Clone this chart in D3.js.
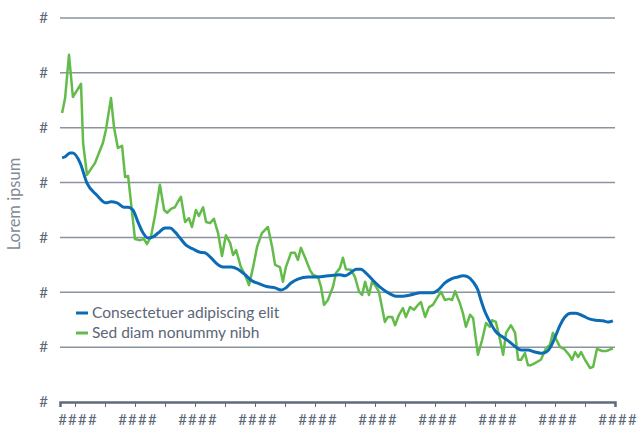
<!DOCTYPE html>
<html>
<head>
<meta charset="utf-8">
<script src="https://cdn.jsdelivr.net/npm/d3@7"></script>
<style>
  body { margin: 0; background: #fff; }
  svg { display: block; }
</style>
</head>
<body>
<div id="chart"></div>
<script>
// data (x in periods, y on a 0-70 scale, gridlines every 10)
const yTicks = [0, 10, 20, 30, 40, 50, 60, 70];
const yTickLabels = ['#', '#', '#', '#', '#', '#', '#', '#'];
const xTicks = [5, 15, 25, 35, 45, 55, 65, 75, 85, 95, 105, 115, 125, 135, 145, 155, 165, 175, 185];
const xLabelTicks = [5, 25, 45, 65, 85, 105, 125, 145, 165, 185];
const xTickLabels = ['####', '####', '####', '####', '####', '####', '####', '####', '####', '####'];
const seriesNames = ['Consectetuer adipiscing elit', 'Sed diam nonummy nibh'];

const blueT = [0.7, 1.7, 3.3, 4.3, 6.7, 9, 12.3, 15.3, 17, 19, 21.3, 22.7, 24.3, 26, 27.7, 29.3, 31, 32.7,
  35, 36.7, 38.3, 40, 42, 44.3, 46.7, 48.3, 50.3, 52.7, 54.3, 57, 59.3, 61.7, 63.7, 66.7, 69.3, 71.7,
  73.7, 75.3, 77, 79.3, 82.7, 86, 89.3, 93.3, 95, 96.7, 98.7, 100.3, 102, 104.3, 107, 110, 112, 114.3,
  116.7, 120.3, 124.3, 126, 128.3, 130.3, 132.7, 134.3, 136, 137.7, 139.3, 140.3, 141.7, 143.3, 145.3,
  147.7, 150, 152, 153.7, 156, 158.3, 160.3, 162, 163.7, 165, 166.7, 168.3, 170.3, 172, 174.3, 176.7,
  178.7, 181, 182.7, 184.3];
const blueV = [44.5, 44.7, 45.4, 45.4, 43.6, 39.9, 37.7, 36.3, 36.5, 36.3, 35.5, 35.5, 35.0, 32.8, 30.8, 29.9, 30.1, 30.8,
  31.7, 31.7, 31.0, 29.9, 28.6, 27.9, 27.3, 27.2, 26.3, 25.0, 24.6, 24.6, 24.2, 23.2, 22.2, 21.5, 21.0, 20.8,
  20.4, 20.8, 21.7, 22.4, 22.8, 22.8, 23.0, 23.2, 23.0, 23.5, 24.2, 24.2, 23.5, 22.2, 20.8, 19.7, 19.3, 19.3,
  19.5, 19.9, 19.9, 20.4, 21.7, 22.4, 22.8, 23.0, 22.8, 21.9, 20.4, 18.6, 16.4, 14.6, 12.8,
  11.8, 10.9, 10.0, 9.5, 9.5, 9.1, 8.9, 9.1, 10.2, 11.8, 14.0, 15.5, 16.2, 16.2, 15.7, 15.1,
  14.9, 14.8, 14.6, 14.8];

const greenT = [0.7, 1.7, 3, 4.3, 7, 7.7, 9, 11.7, 14.3, 15.3, 17, 18, 19.3, 20.7, 21.7, 22.7, 25, 26.7, 28, 29,
  30.3, 31.7, 33.3, 34.7, 35.7, 37, 38.3, 39.3, 40.3, 41.7, 43, 44, 45.3, 46.3, 47.7, 48.7, 50, 51.3, 52.7,
  54, 55.3, 56.7, 57.7, 58.7, 60.3, 61.7, 63, 64.3, 65.7, 67.3, 69.3, 70.7, 71.7, 73.3, 74.3, 75.3, 77, 78.3,
  79.3, 80.3, 81.7, 83.3, 84.3, 86, 87, 88, 89.3, 91, 92, 93.3, 94.3, 95.3, 97, 98.3, 99.7, 100.7, 101.7, 103,
  104, 105, 106.3, 107, 108.3, 109.3, 110.7, 111.7, 113, 114.3, 115.3, 116.7, 118, 119.3, 120.3, 121.7, 123,
  124.3, 125.7, 127, 128.3, 129.7, 130.7, 131.7, 133.3, 134.3, 135.3, 136.7, 137.7, 139.3, 140.7, 142, 143.3,
  144, 145.3, 146.7, 147.7, 148.7, 150.3, 151.7, 152.7, 153.7, 155, 156, 157, 158.3, 160.3, 162, 163.3, 164.3,
  166.7, 168, 169.7, 170.7, 171.7, 172.7, 173.7, 175, 176.7, 177.7, 179, 180.7, 182.3, 184.3];
const greenV = [52.7, 55.4, 63.3, 55.6, 58.0, 47.2, 41.4, 43.6, 47.2, 49.6, 55.4, 50.1, 46.3, 46.7, 41.0, 41.2, 29.7, 29.5, 29.7, 28.8,
  30.1, 34.1, 39.6, 35.0, 34.5, 35.2, 35.5, 36.5, 37.4, 32.8, 33.5, 31.9, 35.0, 33.9, 35.5, 32.8, 32.6, 33.4, 30.8,
  26.6, 30.4, 29.0, 26.8, 27.7, 24.6, 23.2, 21.3, 24.4, 28.3, 30.8, 31.9, 28.3, 25.0, 24.6, 21.9, 24.6, 27.2, 27.2,
  25.9, 28.1, 26.3, 24.1, 23.2, 22.8, 21.0, 17.7, 18.6, 21.0, 23.5, 24.4, 26.3, 24.2, 24.1, 22.8, 20.1, 19.5, 21.9, 19.5,
  21.9, 21.3, 20.1, 18.2, 14.6, 15.5, 15.5, 14.0, 15.9, 17.1, 15.5, 17.3, 16.8, 17.7, 18.2, 15.5, 17.3,
  17.7, 19.0, 20.1, 18.6, 18.8, 18.6, 20.2, 18.0, 16.2, 13.7, 15.9, 15.3, 8.6, 11.3, 14.4, 13.7,
  14.9, 14.6, 11.3, 8.6, 12.6, 14.0, 12.6, 7.7, 7.7, 8.9, 6.7, 6.7, 7.1, 7.7, 9.8, 10.4, 12.6,
  10.0, 9.7, 8.6, 7.7, 9.1, 8.2, 9.1, 7.7, 6.2, 6.4, 9.7, 9.3, 9.3, 9.8];

const width = 638, height = 430;
const margin = { top: 18, right: 23, bottom: 28, left: 60 };
const textColor = '#5b6677';
const blue = '#0b6cb5';
const green = '#63bb4a';

const svg = d3.select('#chart').append('svg')
  .attr('width', width)
  .attr('height', height);

const x = d3.scaleLinear().domain([0, 185]).range([margin.left, width - margin.right]);
const y = d3.scaleLinear().domain([0, 70]).range([height - margin.bottom, margin.top]);

// gridlines
svg.append('g')
  .selectAll('line')
  .data(yTicks.slice(1))
  .join('line')
    .attr('x1', x(0))
    .attr('x2', x(185))
    .attr('y1', d => y(d))
    .attr('y2', d => y(d))
    .attr('stroke', '#8a939e')
    .attr('stroke-width', 1.5);

// y labels
svg.append('g')
  .selectAll('text')
  .data(yTicks)
  .join('text')
    .attr('x', 48)
    .attr('y', d => y(d))
    .attr('dy', '0.35em')
    .attr('text-anchor', 'end')
    .style('font-family', 'Lato, sans-serif')
    .style('font-size', '15px')
    .style('fill', textColor)
    .text((d, i) => yTickLabels[i]);

// y title
svg.append('text')
  .attr('transform', `translate(20,${y(35) - 6}) rotate(-90)`)
  .attr('text-anchor', 'middle')
  .style('font-family', 'Lato, sans-serif')
  .style('font-size', '16.5px')
  .style('fill', '#7f8a97')
  .text('Lorem ipsum');

// x axis
const xAxis = svg.append('g')
  .attr('transform', `translate(0,${y(0)})`)
  .call(d3.axisBottom(x).tickValues(xTicks).tickSize(5).tickFormat(''));
xAxis.select('.domain').attr('stroke', '#5f6b7a').attr('stroke-width', 2.5);
xAxis.selectAll('.tick line').attr('stroke', '#5f6b7a').attr('stroke-width', 1);

svg.append('g')
  .selectAll('text')
  .data(xLabelTicks)
  .join('text')
    .attr('x', d => x(d) + 3)
    .attr('y', y(0) + 23)
    .attr('text-anchor', 'middle')
    .style('font-family', 'Lato, sans-serif')
    .style('font-size', '15px')
    .style('letter-spacing', '1.2px')
    .style('fill', textColor)
    .text((d, i) => xTickLabels[i]);

// lines
const greenData = greenT.map((t, i) => [t, greenV[i]]);
const blueData = blueT.map((t, i) => [t, blueV[i]]);

svg.append('path')
  .datum(greenData)
  .attr('fill', 'none')
  .attr('stroke', green)
  .attr('stroke-width', 2.5)
  .attr('stroke-linejoin', 'round')
  .attr('d', d3.line().x(d => x(d[0])).y(d => y(d[1])));

svg.append('path')
  .datum(blueData)
  .attr('fill', 'none')
  .attr('stroke', blue)
  .attr('stroke-width', 3)
  .attr('d', d3.line().curve(d3.curveMonotoneX).x(d => x(d[0])).y(d => y(d[1])));

// legend
const legend = svg.append('g').attr('transform', 'translate(76,313)');
[blue, green].forEach((c, i) => {
  const row = legend.append('g').attr('transform', `translate(0,${i * 20})`);
  row.append('line')
    .attr('x1', 0).attr('x2', 12)
    .attr('stroke', c)
    .attr('stroke-width', 3);
  row.append('text')
    .attr('x', 16)
    .attr('dy', '0.35em')
    .style('font-family', 'Lato, sans-serif')
    .style('font-size', '15.5px')
    .style('fill', textColor)
    .text(seriesNames[i]);
});
</script>
</body>
</html>
